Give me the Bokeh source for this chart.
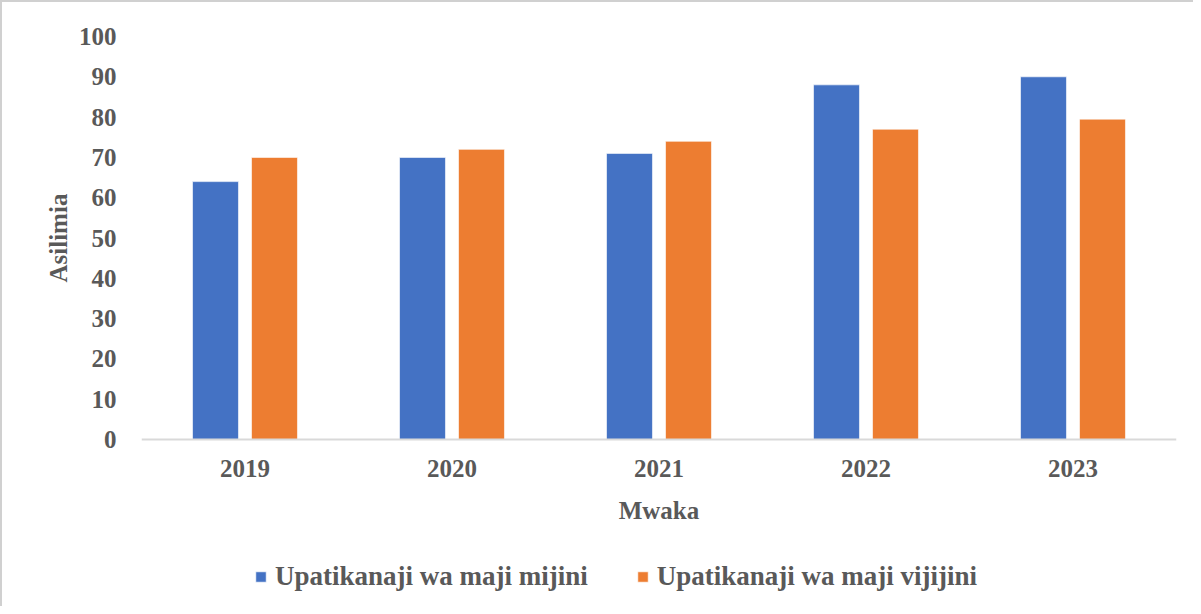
from bokeh.plotting import figure
from bokeh.models import ColumnDataSource, FactorRange, Legend, LegendItem, FixedTicker, Title
from bokeh.transform import dodge
from bokeh.embed import file_html
from bokeh.resources import INLINE

years = ["2019", "2020", "2021", "2022", "2023"]
mijini = [64, 70, 71, 88, 90]
vijijini = [70, 72, 74, 77, 79.5]
series_names = ["Upatikanaji wa maji mijini", "Upatikanaji wa maji vijijini"]
y_ticks = [0, 10, 20, 30, 40, 50, 60, 70, 80, 90, 100]

BLUE = "#4472C4"
ORANGE = "#ED7D31"
TXT = "#595959"
FONT = "Liberation Serif"

src = ColumnDataSource(dict(year=years, mijini=mijini, vijijini=vijijini))

# the frame reaches the bottom of the figure so the legend can sit inside it;
# the value axis still shows 0-100 and the category axis is pinned at y = 0
p = figure(width=1193, height=606, x_range=FactorRange(*years, range_padding=0),
           y_range=(-41.9, 100), output_backend="svg", toolbar_location=None,
           min_border_left=139, min_border_right=19, min_border_top=34,
           min_border_bottom=0,
           styles={"border-left": "2px solid #d0d0d0", "border-top": "2px solid #d0d0d0"})
p.outline_line_color = None
p.xgrid.grid_line_color = None
p.ygrid.grid_line_color = None

r1 = p.vbar(x=dodge("year", -0.1425, range=p.x_range), top="mijini", width=0.222,
            source=src, fill_color=BLUE, line_color="white", line_alpha=0.6)
r2 = p.vbar(x=dodge("year", 0.1425, range=p.x_range), top="vijijini", width=0.222,
            source=src, fill_color=ORANGE, line_color="white", line_alpha=0.6)

p.yaxis.ticker = FixedTicker(ticks=y_ticks)
p.yaxis.axis_line_color = None
p.yaxis.major_tick_line_color = None
p.yaxis.minor_tick_line_color = None
p.yaxis.major_label_standoff = 19

p.xaxis.fixed_location = 0
p.xaxis.axis_line_color = "#d9d9d9"
p.xaxis.axis_line_width = 2
p.xaxis.major_tick_line_color = None
p.xaxis.minor_tick_line_color = None
p.xaxis.major_label_standoff = 14
p.xaxis.axis_label = "Mwaka"
p.xaxis.axis_label_standoff = 17

for ax in (p.xaxis, p.yaxis):
    ax.major_label_text_font = FONT
    ax.major_label_text_font_style = "bold"
    ax.major_label_text_font_size = "25px"
    ax.major_label_text_color = TXT
    ax.axis_label_text_font = FONT
    ax.axis_label_text_font_style = "bold"
    ax.axis_label_text_font_size = "25px"
    ax.axis_label_text_color = TXT

ytitle = Title(text="Asilimia", align="left", offset=326, standoff=8,
               text_font=FONT, text_font_style="bold", text_font_size="25px",
               text_color=TXT)
p.add_layout(ytitle, "left")

legend = Legend(items=[LegendItem(label=series_names[0], renderers=[r1]),
                       LegendItem(label=series_names[1], renderers=[r2])],
                orientation="horizontal", location=(113, 16))
legend.glyph_width = 13
legend.glyph_height = 13
legend.label_height = 26
legend.label_standoff = 8
legend.spacing = 48
legend.padding = 0
legend.margin = 0
legend.border_line_color = None
legend.background_fill_alpha = 0
legend.label_text_font = FONT
legend.label_text_font_style = "bold"
legend.label_text_font_size = "27px"
legend.label_text_color = TXT
p.add_layout(legend, "center")

open("out.html", "w").write(file_html(p, INLINE))
